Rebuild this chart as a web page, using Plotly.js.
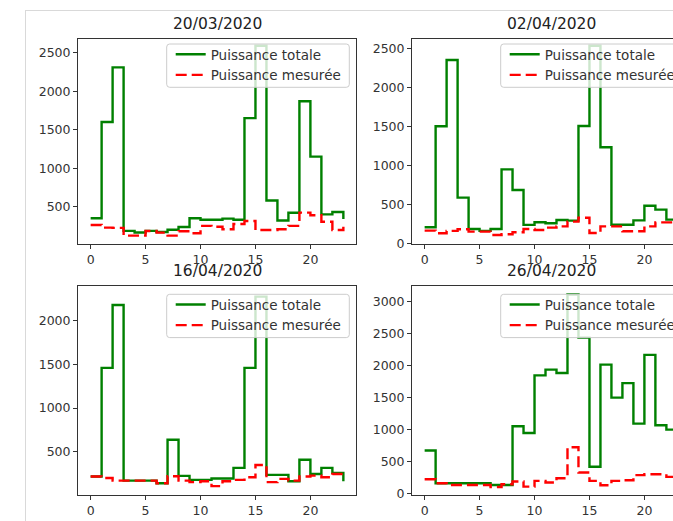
<!DOCTYPE html>
<html>
<head>
<meta charset="utf-8">
<script src="https://cdn.plot.ly/plotly-3.0.1.min.js"></script>
<style>
  html, body { margin: 0; padding: 0; overflow: hidden; background: #fff; }
  #plot { position: absolute; left: 0; top: 0; width: 720px; height: 521px; }
  #frame { position: absolute; left: 25px; top: 10px; width: 700px; height: 520px;
           border-top: 1px solid #d9d9d9; border-left: 1px solid #d9d9d9; pointer-events: none; }
</style>
</head>
<body>
<div id="plot"></div>
<div id="frame"></div>
<script>
// ---- data ----
const hours = [0,1,2,3,4,5,6,7,8,9,10,11,12,13,14,15,16,17,18,19,20,21,22,23];
const dates = ["20/03/2020", "02/04/2020", "16/04/2020", "26/04/2020"];
const seriesNames = ["Puissance totale", "Puissance mesurée"];

const total_2003 = [350,1600,2310,185,165,185,170,200,235,350,330,330,345,330,1650,2590,580,320,420,1870,1150,400,430,340];
const mesure_2003 = [262,228,225,124,124,184,163,124,180,154,250,240,206,275,314,197,197,206,250,422,388,305,197,240];

const total_0204 = [210,1507,2358,590,188,163,188,954,689,240,274,261,304,295,1511,2542,1237,243,243,299,487,436,308,290];
const mesure_0204 = [167,133,163,184,154,154,111,120,146,188,175,205,222,282,333,137,222,222,158,158,222,273,273,270];

const total_1604 = [216,1459,2179,170,170,170,140,637,224,178,178,193,193,315,1459,2274,235,235,163,409,246,315,258,163];
const mesure_1604 = [216,200,170,170,170,170,140,220,170,152,163,106,163,178,208,349,152,190,170,216,227,208,246,240];

const total_2604 = [674,163,163,163,163,163,137,137,1053,947,1847,1937,1884,3110,2437,421,2016,1500,1726,1095,2168,1068,1000,990];
const mesure_2604 = [226,163,137,137,137,137,105,147,190,110,200,174,242,726,332,200,132,200,210,290,305,305,263,260];

const totals = [total_2003, total_0204, total_1604, total_2604];
const mesures = [mesure_2003, mesure_0204, mesure_1604, mesure_2604];
const yRanges = [[15, 2678], [-5, 2628], [5, 2396], [-20, 3243]];

// ---- layout geometry (pixels on a 720x521 paper) ----
const W = 720, H = 521;
const colX = [[78, 356], [412, 690]];
const rowY = [[39, 244], [286, 495]];
const titleY = [23.5, 271];
const legBoxX = [[166.7, 349.3], [500.7, 683.3]];
const legBoxY = [[44, 87.3], [294.3, 337.6]];

const font = 'DejaVu Sans, Liberation Sans, sans-serif';
const px = v => v / W;
const py = v => 1 - v / H;

function roundedBox(x0, x1, y0, y1, rad) {
  return 'M' + px(x0 + rad) + ',' + py(y0) +
    ' L' + px(x1 - rad) + ',' + py(y0) +
    ' Q' + px(x1) + ',' + py(y0) + ' ' + px(x1) + ',' + py(y0 + rad) +
    ' L' + px(x1) + ',' + py(y1 - rad) +
    ' Q' + px(x1) + ',' + py(y1) + ' ' + px(x1 - rad) + ',' + py(y1) +
    ' L' + px(x0 + rad) + ',' + py(y1) +
    ' Q' + px(x0) + ',' + py(y1) + ' ' + px(x0) + ',' + py(y1 - rad) +
    ' L' + px(x0) + ',' + py(y0 + rad) +
    ' Q' + px(x0) + ',' + py(y0) + ' ' + px(x0 + rad) + ',' + py(y0) + ' Z';
}

const traces = [];
const layout = {
  width: W, height: H,
  margin: {l: 0, r: 0, t: 0, b: 0},
  paper_bgcolor: '#ffffff',
  plot_bgcolor: '#ffffff',
  showlegend: true,
  annotations: [],
  shapes: []
};

for (let i = 0; i < 4; i++) {
  const r = Math.floor(i / 2), c = i % 2;
  const ax = i === 0 ? '' : String(i + 1);
  const legName = i === 0 ? 'legend' : 'legend' + (i + 1);
  traces.push({
    x: hours, y: totals[i], type: 'scatter', mode: 'lines',
    name: seriesNames[0], line: {shape: 'hv', color: '#008000', width: 2.4},
    xaxis: 'x' + ax, yaxis: 'y' + ax, legend: legName, showlegend: true
  });
  traces.push({
    x: hours, y: mesures[i], type: 'scatter', mode: 'lines',
    name: seriesNames[1], line: {shape: 'hv', color: '#ff0000', width: 2.4, dash: '11px,5px'},
    xaxis: 'x' + ax, yaxis: 'y' + ax, legend: legName, showlegend: true
  });
  const common = {
    showgrid: false, zeroline: false, showline: true, mirror: true,
    linecolor: '#333333', linewidth: 1,
    ticks: 'outside', ticklen: 4, tickwidth: 1, tickcolor: '#333333',
    tickfont: {family: font, size: 12.5, color: '#333333'},
    fixedrange: true
  };
  layout['xaxis' + ax] = Object.assign({}, common, {
    domain: [colX[c][0] / W, colX[c][1] / W],
    range: [-1.15, 24.15], tick0: 0, dtick: 5,
    anchor: 'y' + ax
  });
  layout['yaxis' + ax] = Object.assign({}, common, {
    domain: [1 - rowY[r][1] / H, 1 - rowY[r][0] / H],
    range: yRanges[i], tick0: 0, dtick: 500,
    anchor: 'x' + ax
  });
  // legend frame (semi-transparent white, light grey border, rounded)
  layout.shapes.push({
    type: 'path', xref: 'paper', yref: 'paper', layer: 'above',
    path: roundedBox(legBoxX[c][0], legBoxX[c][1], legBoxY[r][0], legBoxY[r][1], 3),
    fillcolor: 'rgba(255,255,255,0.8)', line: {color: '#cccccc', width: 1}
  });
  layout[legName] = {
    x: px(legBoxX[c][0] + 4), y: py(legBoxY[r][0] - 5),
    xanchor: 'left', yanchor: 'top',
    bgcolor: 'rgba(0,0,0,0)', borderwidth: 0,
    font: {family: font, size: 13.5, color: '#333333'},
    traceorder: 'normal', tracegroupgap: 0
  };
  layout.annotations.push({
    text: dates[i], xref: 'paper', yref: 'paper',
    x: (colX[c][0] + colX[c][1]) / 2 / W, y: py(titleY[r]),
    xanchor: 'center', yanchor: 'middle', showarrow: false,
    font: {family: font, size: 15.5, color: '#222222'}
  });
}

Plotly.newPlot('plot', traces, layout, {staticPlot: true, displayModeBar: false});
</script>
</body>
</html>
